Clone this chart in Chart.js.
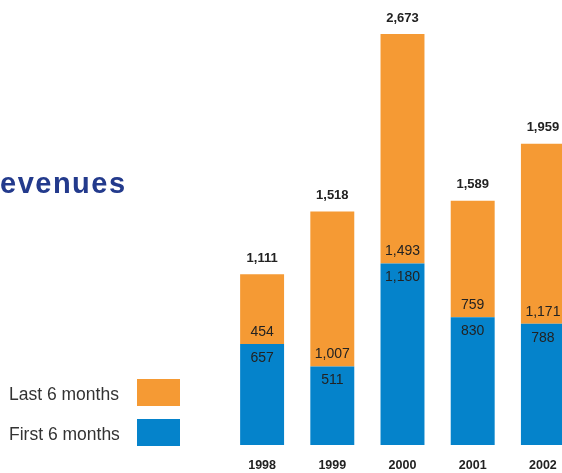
<!DOCTYPE html>
<html>
<head>
<meta charset="utf-8">
<script src="https://cdn.jsdelivr.net/npm/chart.js@4"></script>
<style>
  html, body { margin:0; padding:0; background:#fff; overflow:hidden; width:562px; height:473px; }
  #wrap { position:relative; width:600px; height:473px; }
  #c { position:absolute; left:0; top:0; }
  #title { position:absolute; left:0px; top:166px; font-family:"Liberation Sans", Arial, sans-serif; font-weight:bold; font-size:29px; letter-spacing:1.5px; color:#233a8c; line-height:34px; white-space:nowrap; }
  .leg { position:absolute; font-family:"Liberation Sans", Arial, sans-serif; font-size:17.5px; color:#333; white-space:nowrap; }
  .box { position:absolute; width:43px; height:27px; }
</style>
</head>
<body>
<div id="wrap">
  <canvas id="c" width="600" height="473" style="width:600px;height:473px;"></canvas>
  <div id="title">evenues</div>
  <div class="leg" style="left:9px; top:384px;">Last 6 months</div>
  <div class="box" id="boxLast" style="left:137px; top:379px;"></div>
  <div class="leg" style="left:9px; top:424px;">First 6 months</div>
  <div class="box" id="boxFirst" style="left:137px; top:419px;"></div>
</div>
<script>
const years = ['1998', '1999', '2000', '2001', '2002'];
const firstHalf = [657, 511, 1180, 830, 788];
const lastHalf = [454, 1007, 1493, 759, 1171];
const totals = [1111, 1518, 2673, 1589, 1959];
const seriesNames = ['First 6 months', 'Last 6 months'];
const colorFirst = '#0583CB';
const colorLast = '#F59A34';

document.getElementById('boxLast').style.background = colorLast;
document.getElementById('boxFirst').style.background = colorFirst;

const fmt = v => v.toLocaleString('en-US');

const labelPlugin = {
  id: 'labels',
  afterDatasetsDraw(chart) {
    const ctx = chart.ctx;
    ctx.save();
    ctx.textAlign = 'center';
    ctx.textBaseline = 'middle';
    const m0 = chart.getDatasetMeta(0);
    const m1 = chart.getDatasetMeta(1);
    ctx.fillStyle = '#222';
    ctx.font = '14px "Liberation Sans", Arial, sans-serif';
    m0.data.forEach((bar, i) => {
      ctx.fillText(fmt(firstHalf[i]), bar.x, bar.y + 14);
    });
    m1.data.forEach((bar, i) => {
      ctx.fillText(fmt(lastHalf[i]), bar.x, bar.base - 12);
    });
    ctx.font = 'bold 13px "Liberation Sans", Arial, sans-serif';
    m1.data.forEach((bar, i) => {
      ctx.fillText(fmt(totals[i]), bar.x, bar.y - 16);
    });
    // category labels from the x scale
    const xs = chart.scales.x;
    ctx.font = 'bold 12.5px "Liberation Sans", Arial, sans-serif';
    years.forEach((y, i) => {
      ctx.fillText(y, xs.getPixelForValue(i), chart.chartArea.bottom + 21);
    });
    ctx.restore();
  }
};

new Chart(document.getElementById('c'), {
  type: 'bar',
  data: {
    labels: years,
    datasets: [
      { label: seriesNames[0], data: firstHalf, backgroundColor: colorFirst, barPercentage: 0.626, categoryPercentage: 1 },
      { label: seriesNames[1], data: lastHalf, backgroundColor: colorLast, barPercentage: 0.626, categoryPercentage: 1 }
    ]
  },
  options: {
    responsive: false,
    animation: false,
    layout: { padding: { left: 227, right: 22, top: 0, bottom: 28 } },
    plugins: { legend: { display: false }, tooltip: { enabled: false } },
    scales: {
      x: { stacked: true, display: false },
      y: { stacked: true, display: false, min: 0, max: 2894 }
    }
  },
  plugins: [labelPlugin]
});
</script>
</body>
</html>
